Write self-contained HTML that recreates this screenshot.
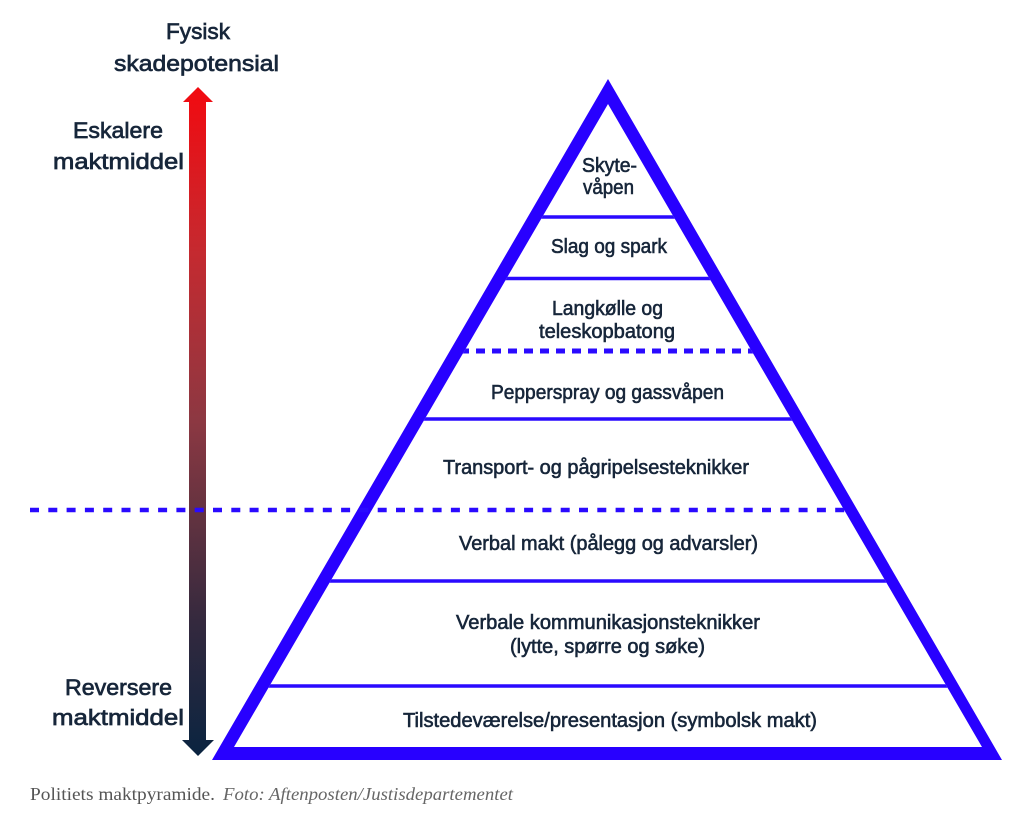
<!DOCTYPE html>
<html>
<head>
<meta charset="utf-8">
<style>
html,body{margin:0;padding:0;background:#fff;}
body{width:1031px;height:837px;overflow:hidden;}
svg{display:block;}
.t{font-family:"Liberation Sans",Arial,sans-serif;font-size:20px;fill:#17263a;stroke:#17263a;stroke-width:0.6px;}
.l{font-family:"Liberation Sans",Arial,sans-serif;font-size:22.5px;fill:#17263a;stroke:#17263a;stroke-width:0.7px;}
.c{font-family:"Liberation Serif","DejaVu Serif",serif;font-size:18px;fill:#555;}
.ci{font-family:"Liberation Serif","DejaVu Serif",serif;font-size:18px;font-style:italic;fill:#666;}
</style>
</head>
<body>
<svg width="1031" height="837" viewBox="0 0 1031 837" xmlns="http://www.w3.org/2000/svg">
  <defs>
    <linearGradient id="ag" x1="0" y1="87" x2="0" y2="756" gradientUnits="userSpaceOnUse">
      <stop offset="0" stop-color="#f20a10"/>
      <stop offset="0.25" stop-color="#c42a30"/>
      <stop offset="0.5" stop-color="#8c3842"/>
      <stop offset="0.65" stop-color="#603240"/>
      <stop offset="0.8" stop-color="#34293e"/>
      <stop offset="1" stop-color="#0a2440"/>
    </linearGradient>
    <clipPath id="inner">
      <polygon points="608,104 234,747 982,747"/>
    </clipPath>
  </defs>

  <!-- arrow -->
  <polygon fill="url(#ag)" points="198,87 213,102 206,102 206,740 214,740 198,756 182,740 189,740 189,102 183,102"/>

  <!-- band lines -->
  <g clip-path="url(#inner)" stroke="#2a0aff">
    <line x1="200" y1="217" x2="1010" y2="217" stroke-width="3.5"/>
    <line x1="200" y1="278.5" x2="1010" y2="278.5" stroke-width="3.5"/>
    <line x1="460" y1="351" x2="760" y2="351" stroke-width="5" stroke-dasharray="9 7"/>
    <line x1="200" y1="419" x2="1010" y2="419" stroke-width="3.5"/>
    <line x1="200" y1="581" x2="1010" y2="581" stroke-width="3.5"/>
    <line x1="200" y1="686" x2="1010" y2="686" stroke-width="3.5"/>
  </g>

  <!-- pyramid border -->
  <path fill="#2800ff" fill-rule="evenodd" d="M608,79 L1002,760 L212,760 Z M608,104 L234,747 L982,747 Z"/>

  <!-- long dashed line -->
  <line x1="30" y1="510" x2="850" y2="510" stroke="#2a0aff" stroke-width="4.5" stroke-dasharray="9 9.3"/>

  <!-- pyramid texts -->
  <text class="t" x="582" y="172" textLength="55" lengthAdjust="spacingAndGlyphs">Skyte-</text>
  <text class="t" x="583" y="194" textLength="51" lengthAdjust="spacingAndGlyphs">våpen</text>
  <text class="t" x="551" y="253" textLength="116" lengthAdjust="spacingAndGlyphs">Slag og spark</text>
  <text class="t" x="552" y="315" textLength="111" lengthAdjust="spacingAndGlyphs">Langkølle og</text>
  <text class="t" x="539" y="338" textLength="136" lengthAdjust="spacingAndGlyphs">teleskopbatong</text>
  <text class="t" x="491" y="399" textLength="233" lengthAdjust="spacingAndGlyphs">Pepperspray og gassvåpen</text>
  <text class="t" x="443" y="474" textLength="306" lengthAdjust="spacingAndGlyphs">Transport- og pågripelsesteknikker</text>
  <text class="t" x="459" y="550" textLength="299" lengthAdjust="spacingAndGlyphs">Verbal makt (pålegg og advarsler)</text>
  <text class="t" x="456" y="629" textLength="304" lengthAdjust="spacingAndGlyphs">Verbale kommunikasjonsteknikker</text>
  <text class="t" x="510" y="653" textLength="195" lengthAdjust="spacingAndGlyphs">(lytte, spørre og søke)</text>
  <text class="t" x="403" y="727" textLength="414" lengthAdjust="spacingAndGlyphs">Tilstedeværelse/presentasjon (symbolsk makt)</text>

  <!-- left labels -->
  <text class="l" x="166" y="39" textLength="64" lengthAdjust="spacingAndGlyphs">Fysisk</text>
  <text class="l" x="114" y="71" textLength="165" lengthAdjust="spacingAndGlyphs">skadepotensial</text>
  <text class="l" x="73" y="138" textLength="90" lengthAdjust="spacingAndGlyphs">Eskalere</text>
  <text class="l" x="53" y="169" textLength="131" lengthAdjust="spacingAndGlyphs">maktmiddel</text>
  <text class="l" x="65" y="695" textLength="107" lengthAdjust="spacingAndGlyphs">Reversere</text>
  <text class="l" x="52" y="725" textLength="132" lengthAdjust="spacingAndGlyphs">maktmiddel</text>

  <!-- caption -->
  <text class="c" x="30" y="800" textLength="185" lengthAdjust="spacingAndGlyphs">Politiets maktpyramide.</text>
  <text class="ci" x="223" y="800" textLength="290" lengthAdjust="spacingAndGlyphs">Foto: Aftenposten/Justisdepartementet</text>
</svg>
</body>
</html>
